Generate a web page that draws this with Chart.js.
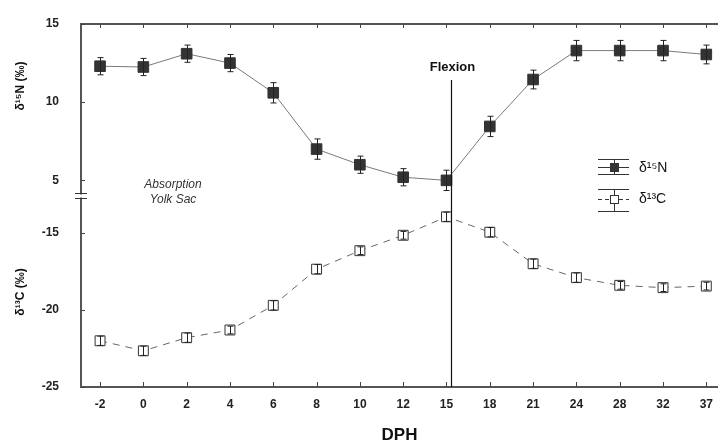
<!DOCTYPE html>
<html>
<head>
<meta charset="utf-8">
<script src="https://cdn.jsdelivr.net/npm/chart.js@4.4.1/dist/chart.umd.min.js"></script>
<style>
html,body{margin:0;padding:0;background:#fff;}
#wrap{width:718px;height:446px;position:relative;}
</style>
</head>
<body>
<div id="wrap"><canvas id="c" width="718" height="446"></canvas></div>
<script>
// ---- data ----
const dphLabels = ['-2','0','2','4','6','8','10','12','15','18','21','24','28','32','37'];
const n15Values = [12.3, 12.25, 13.1, 12.5, 10.6, 7.0, 6.0, 5.2, 5.0, 8.45, 11.45, 13.3, 13.3, 13.3, 13.05];
const n15Err    = [0.55, 0.55, 0.55, 0.55, 0.65, 0.65, 0.55, 0.55, 0.65, 0.65, 0.6, 0.65, 0.65, 0.65, 0.6];
const c13Values = [-22.0, -22.65, -21.8, -21.3, -19.7, -17.35, -16.15, -15.15, -13.95, -14.95, -17.0, -17.9, -18.4, -18.55, -18.45];
const c13Err    = [0.3, 0.3, 0.3, 0.25, 0.3, 0.3, 0.25, 0.25, 0.3, 0.3, 0.3, 0.3, 0.25, 0.25, 0.25];
const n15Ticks = [5, 10, 15];
const c13Ticks = [-25, -20, -15];
const flexionIndex = 8.1;
const seriesNames = ['δ¹⁵N', 'δ¹³C'];
const axisTitles = ['δ¹⁵N (‰)', 'δ¹³C (‰)'];

const FONT = '"Liberation Sans", Arial, sans-serif';
const n15Pts = n15Values.map((v, i) => ({x: i, y: v}));
const c13Pts = c13Values.map((v, i) => ({x: i, y: v}));

const decor = {
  id: 'decor',
  afterDatasetsDraw(chart) {
    const ctx = chart.ctx;
    const xs = chart.scales.x, y1 = chart.scales.y, y2 = chart.scales.y2;
    ctx.save();
    function errBars(vals, errs, sc) {
      ctx.strokeStyle = '#222';
      ctx.lineWidth = 1;
      vals.forEach((v, i) => {
        const px = Math.round(xs.getPixelForValue(i)) + 0.5;
        const yt = sc.getPixelForValue(v + errs[i]);
        const yb = sc.getPixelForValue(v - errs[i]);
        ctx.beginPath();
        ctx.moveTo(px, yt); ctx.lineTo(px, yb);
        ctx.moveTo(px - 3, yt); ctx.lineTo(px + 3, yt);
        ctx.moveTo(px - 3, yb); ctx.lineTo(px + 3, yb);
        ctx.stroke();
      });
    }
    errBars(n15Values, n15Err, y1);
    errBars(c13Values, c13Err, y2);
    ctx.restore();
  },
  afterDraw(chart) {
    const ctx = chart.ctx;
    const xs = chart.scales.x, y1 = chart.scales.y, y2 = chart.scales.y2;
    const ca = chart.chartArea;
    ctx.save();
    ctx.strokeStyle = '#444';
    ctx.lineWidth = 1;
    dphLabels.forEach((l, i) => {
      const px = Math.round(xs.getPixelForValue(i)) + 0.5;
      ctx.beginPath();
      ctx.moveTo(px, ca.top); ctx.lineTo(px, ca.top + 4);
      ctx.moveTo(px, ca.bottom); ctx.lineTo(px, ca.bottom - 5);
      ctx.stroke();
    });
    n15Ticks.forEach(t => {
      const py = Math.round(y1.getPixelForValue(t)) + 0.5;
      ctx.beginPath(); ctx.moveTo(ca.left, py); ctx.lineTo(ca.left + 4, py); ctx.stroke();
    });
    c13Ticks.forEach(t => {
      const py = Math.round(y2.getPixelForValue(t)) + 0.5;
      ctx.beginPath(); ctx.moveTo(ca.left, py); ctx.lineTo(ca.left + 4, py); ctx.stroke();
    });
    // axis break mark
    const yb = y1.bottom;
    ctx.strokeStyle = '#333';
    ctx.lineWidth = 1;
    ctx.beginPath();
    ctx.moveTo(ca.left - 6, yb - 2.5); ctx.lineTo(ca.left + 6, yb - 2.5);
    ctx.moveTo(ca.left - 6, yb + 2.5); ctx.lineTo(ca.left + 6, yb + 2.5);
    ctx.stroke();
    ctx.fillStyle = '#fff';
    ctx.fillRect(ca.left - 2, yb - 1.5, 4, 3);
    // flexion line
    const fx = Math.round(xs.getPixelForValue(flexionIndex)) + 0.5;
    ctx.strokeStyle = '#111';
    ctx.lineWidth = 1.2;
    ctx.beginPath(); ctx.moveTo(fx, 80); ctx.lineTo(fx, ca.bottom); ctx.stroke();
    ctx.fillStyle = '#111';
    ctx.font = 'bold 13px ' + FONT;
    ctx.textAlign = 'center'; ctx.textBaseline = 'middle';
    ctx.fillText('Flexion', fx + 1, 67);
    // absorption text
    ctx.fillStyle = '#333';
    ctx.font = 'italic 12px ' + FONT;
    ctx.fillText('Absorption', 173, 185);
    ctx.fillText('Yolk Sac', 173, 200);
    // y titles
    ctx.fillStyle = '#111';
    ctx.font = 'bold 12px ' + FONT;
    ctx.save(); ctx.translate(21, 86); ctx.rotate(-Math.PI / 2); ctx.fillText(axisTitles[0], 0, 0); ctx.restore();
    ctx.save(); ctx.translate(21, 292); ctx.rotate(-Math.PI / 2); ctx.fillText(axisTitles[1], 0, 0); ctx.restore();
    // legend
    const lx0 = 598, lx1 = 629, lcx = 614;
    ctx.strokeStyle = '#333'; ctx.lineWidth = 1;
    ctx.beginPath();
    ctx.moveTo(lx0, 159.5); ctx.lineTo(lx1, 159.5);
    ctx.moveTo(lx0, 174.5); ctx.lineTo(lx1, 174.5);
    ctx.moveTo(lx0, 167.5); ctx.lineTo(lx1, 167.5);
    ctx.moveTo(lcx + 0.5, 160); ctx.lineTo(lcx + 0.5, 174);
    ctx.stroke();
    ctx.fillStyle = '#333';
    ctx.fillRect(lcx - 4, 163, 9, 9);
    ctx.beginPath();
    ctx.moveTo(lx0, 189.5); ctx.lineTo(lx1, 189.5);
    ctx.moveTo(lx0, 211.5); ctx.lineTo(lx1, 211.5);
    ctx.moveTo(lcx + 0.5, 190); ctx.lineTo(lcx + 0.5, 211);
    ctx.stroke();
    ctx.setLineDash([4, 3]);
    ctx.beginPath(); ctx.moveTo(lx0, 199.5); ctx.lineTo(lx1, 199.5); ctx.stroke();
    ctx.setLineDash([]);
    ctx.fillStyle = '#fff';
    ctx.fillRect(lcx - 4, 195, 9, 9);
    ctx.strokeRect(lcx - 3.5, 195.5, 8, 8);
    ctx.fillStyle = '#111';
    ctx.font = '14px ' + FONT;
    ctx.textAlign = 'left';
    ctx.fillText(seriesNames[0], 639, 168);
    ctx.fillText(seriesNames[1], 639, 199);
    ctx.restore();
  }
};

new Chart(document.getElementById('c'), {
  type: 'line',
  data: {
    datasets: [
      {
        label: seriesNames[0], data: n15Pts, yAxisID: 'y', xAxisID: 'x',
        borderColor: '#7a7a7a', borderWidth: 1, pointStyle: 'rect', pointRadius: 7.5,
        pointBackgroundColor: '#333', pointBorderColor: '#333', pointBorderWidth: 1, tension: 0
      },
      {
        label: seriesNames[1], data: c13Pts, yAxisID: 'y2', xAxisID: 'x',
        borderColor: '#666', borderWidth: 1, borderDash: [7, 6], pointStyle: 'rect', pointRadius: 7,
        pointBackgroundColor: '#fff', pointBorderColor: '#333', pointBorderWidth: 1, tension: 0
      }
    ]
  },
  options: {
    responsive: false, animation: false, devicePixelRatio: 1,
    layout: { autoPadding: false, padding: { top: 0, right: 0, left: 0, bottom: 0 } },
    plugins: { legend: { display: false }, tooltip: { enabled: false } },
    scales: {
      y2: {
        type: 'linear', position: 'left', stack: 'left', stackWeight: 191, min: -25, max: -12.6,
        afterBuildTicks: s => { s.ticks = c13Ticks.map(v => ({value: v})); },
        afterFit: s => { s.width = 81; s.paddingTop = 0; s.paddingBottom = 0; },
        grid: { display: false, drawTicks: false },
        border: { display: true, color: '#555', width: 2, dash: [1, 1] },
        ticks: { color: '#222', font: { family: FONT, size: 12, weight: 'bold' }, padding: 22 }
      },
      y: {
        type: 'linear', position: 'left', stack: 'left', stackWeight: 172, min: 4, max: 15,
        afterBuildTicks: s => { s.ticks = n15Ticks.map(v => ({value: v})); },
        afterFit: s => { s.width = 81; s.paddingTop = 0; s.paddingBottom = 0; },
        grid: { display: false, drawTicks: false },
        border: { display: true, color: '#555', width: 2, dash: [1, 1] },
        ticks: { color: '#222', font: { family: FONT, size: 12, weight: 'bold' }, padding: 22 }
      },
      x: {
        type: 'linear', position: 'bottom', min: -0.44, max: 14.27,
        afterBuildTicks: s => { s.ticks = dphLabels.map((l, i) => ({value: i})); },
        afterFit: s => { s.height = 59; s.paddingLeft = 0; s.paddingRight = 0; },
        grid: { display: false, drawTicks: false },
        border: { display: true, color: '#555', width: 2, dash: [1, 1] },
        ticks: { callback: (v) => dphLabels[v], color: '#222', font: { family: FONT, size: 12, weight: 'bold' }, padding: 10, maxRotation: 0, autoSkip: false },
        title: { display: true, text: 'DPH', color: '#111', font: { family: FONT, size: 17, weight: 'bold' }, padding: { top: 14, bottom: 0 } }
      },
      xTop: {
        type: 'linear', position: 'top', min: -0.44, max: 14.27,
        afterFit: s => { s.height = 24; s.paddingLeft = 0; s.paddingRight = 0; },
        grid: { display: false, drawTicks: false },
        border: { display: true, color: '#555', width: 2, dash: [1, 1] },
        ticks: { display: false }
      }
    }
  },
  plugins: [decor]
});
</script>
</body>
</html>
